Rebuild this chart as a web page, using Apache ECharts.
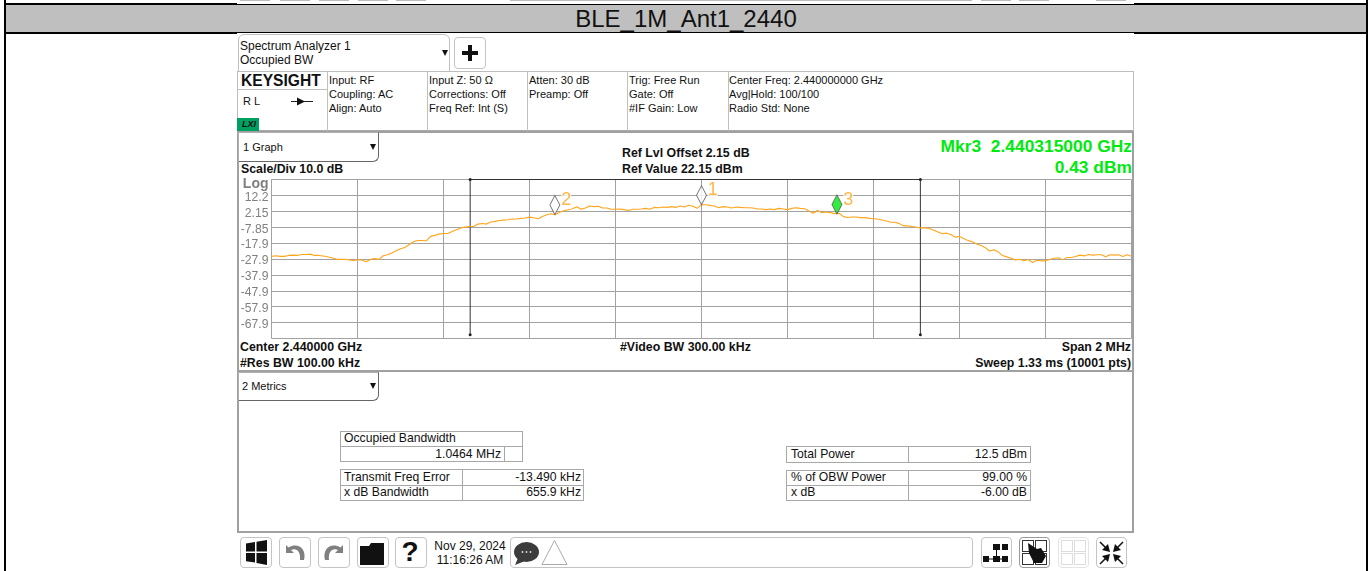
<!DOCTYPE html>
<html>
<head>
<meta charset="utf-8">
<title>BLE_1M_Ant1_2440</title>
<script src="https://cdn.jsdelivr.net/npm/echarts@6/dist/echarts.min.js"></script>
<style>
html, body { margin: 0; padding: 0; background: #fff; }
body { position: relative; width: 1369px; height: 571px; overflow: hidden; font-family: "Liberation Sans", Arial, sans-serif; font-size: 12.2px; color: #111; }
#chart { position: absolute; left: 0; top: 0; width: 1369px; height: 571px; }
.r { position: absolute; box-sizing: border-box; }
.t { position: absolute; white-space: nowrap; line-height: 14px; transform: translateY(-7px); }
.s { font-size: 11px; }
.b { font-weight: bold; font-size: 12.35px; }
.e { transform: translate(-100%, -7px); }
.mkr { font-weight: bold; font-size: 17.4px; line-height: 20px; color: #00ea10; transform: translate(-100%, -10px); }
.cell { border: 1px solid #a8a8a8; background: #fff; }
.drop { border: 1px solid #b0b0b0; border-right-color: #666; border-bottom-color: #666; border-radius: 0 0 6px 0; background: #fff; }
.btn { border: 1px solid #c4c4c4; border-radius: 4px; background: #fff; }
.tri { width: 0; height: 0; border-left: 3px solid transparent; border-right: 3px solid transparent; border-top: 6px solid #111; }
svg { position: absolute; left: 0; top: 0; }
</style>
</head>
<body>

<!-- table row around the screenshot -->
<div class="r" style="left:4px;top:0;width:2px;height:571px;background:#000"></div>
<div class="r" style="left:1366px;top:0;width:2px;height:571px;background:#000"></div>
<div class="r" style="left:240px;top:0;width:30px;height:1px;background:#bbb"></div>
<div class="r" style="left:280px;top:0;width:30px;height:1px;background:#bbb"></div>
<div class="r" style="left:319px;top:0;width:30px;height:1px;background:#bbb"></div>
<div class="r" style="left:358px;top:0;width:30px;height:1px;background:#bbb"></div>
<div class="r" style="left:396px;top:0;width:30px;height:1px;background:#bbb"></div>
<div class="r" style="left:510px;top:0;width:462px;height:1px;background:#bbb"></div>
<div class="r" style="left:981px;top:0;width:30px;height:1px;background:#bbb"></div>
<div class="r" style="left:1019px;top:0;width:30px;height:1px;background:#bbb"></div>
<div class="r" style="left:1096px;top:0;width:30px;height:1px;background:#bbb"></div>
<div class="r" style="left:4px;top:3px;width:1364px;height:2px;background:#000"></div>
<div class="r" style="left:6px;top:5px;width:1360px;height:27px;background:#bfbfbf"></div>
<div class="r" style="left:4px;top:32px;width:1364px;height:2px;background:#000"></div>
<div class="r" style="left:237px;top:3px;width:897px;height:1px;background:#fff"></div>
<div class="r" style="left:237px;top:33px;width:897px;height:1px;background:#fff"></div>
<div class="t" style="left:686px;top:19px;font-size:24px;line-height:28px;transform:translate(-50%,-14px)">BLE_1M_Ant1_2440</div>

<!-- screen header -->
<div class="r" style="left:238px;top:34px;width:212px;height:38px;border:1px solid #c0c0c0;border-radius:6px 6px 0 0"></div>
<div class="t" style="left:240px;top:46px;font-size:12px">Spectrum Analyzer 1</div>
<div class="t" style="left:240px;top:60px;font-size:12px">Occupied BW</div>
<div class="r tri" style="left:442px;top:50px"></div>
<div class="r btn" style="left:454px;top:37px;width:32px;height:32px"></div>
<div class="r" style="left:462px;top:51px;width:16px;height:4px;background:#111"></div>
<div class="r" style="left:468px;top:45px;width:4px;height:16px;background:#111"></div>

<!-- settings strip -->
<div class="r" style="left:237px;top:71px;width:897px;height:61px;border:1px solid #bdbdbd;border-bottom:2px solid #a8a8a8"></div>
<div class="r" style="left:327px;top:71px;width:1px;height:60px;background:#c0c0c0"></div>
<div class="r" style="left:427px;top:71px;width:1px;height:60px;background:#c0c0c0"></div>
<div class="r" style="left:527px;top:71px;width:1px;height:60px;background:#c0c0c0"></div>
<div class="r" style="left:627px;top:71px;width:1px;height:60px;background:#c0c0c0"></div>
<div class="r" style="left:728px;top:71px;width:1px;height:60px;background:#c0c0c0"></div>
<div class="r" style="left:238px;top:89px;width:89px;height:1px;background:#c0c0c0"></div>
<div class="t" style="left:241px;top:81px;font-size:15.6px;font-weight:bold">KEYSIGHT</div>
<div class="t s" style="left:243px;top:101px">R L</div>
<svg width="1369" height="571">
  <path d="M291 101.5H313" stroke="#222" fill="none"/>
  <path d="M297 97.5L305 101.5L297 105.5Z" fill="#111"/>
</svg>
<div class="r" style="left:237px;top:118px;width:22px;height:13px;background:#00a060"></div>
<div class="t" style="left:242px;top:124px;font-size:9px;font-style:italic;font-weight:bold">LXI</div>
<div class="t s" style="left:329px;top:80px">Input: RF</div>
<div class="t s" style="left:329px;top:94px">Coupling: AC</div>
<div class="t s" style="left:329px;top:108px">Align: Auto</div>
<div class="t s" style="left:429px;top:80px">Input Z: 50 Ω</div>
<div class="t s" style="left:429px;top:94px">Corrections: Off</div>
<div class="t s" style="left:429px;top:108px">Freq Ref: Int (S)</div>
<div class="t s" style="left:529px;top:80px">Atten: 30 dB</div>
<div class="t s" style="left:529px;top:94px">Preamp: Off</div>
<div class="t s" style="left:629px;top:80px">Trig: Free Run</div>
<div class="t s" style="left:629px;top:94px">Gate: Off</div>
<div class="t s" style="left:629px;top:108px">#IF Gain: Low</div>
<div class="t s" style="left:729px;top:80px">Center Freq: 2.440000000 GHz</div>
<div class="t s" style="left:729px;top:94px">Avg|Hold: 100/100</div>
<div class="t s" style="left:729px;top:108px">Radio Std: None</div>

<!-- graph and metrics panels -->
<div class="r" style="left:237px;top:131px;width:897px;height:241px;border:2px solid #a0a0a0"></div>
<div class="r" style="left:237px;top:371px;width:897px;height:162px;border:2px solid #a0a0a0;border-top-width:1px"></div>
<div class="r drop" style="left:238px;top:132px;width:141px;height:30px"></div>
<div class="t s" style="left:243px;top:147px">1 Graph</div>
<div class="r tri" style="left:370px;top:144px"></div>
<div class="t b" style="left:241px;top:169px">Scale/Div 10.0 dB</div>
<div class="t b" style="left:622px;top:153px">Ref Lvl Offset 2.15 dB</div>
<div class="t b" style="left:622px;top:169px">Ref Value 22.15 dBm</div>
<div class="t mkr" style="left:1132px;top:146px">Mkr3&nbsp; 2.440315000 GHz</div>
<div class="t mkr" style="left:1132px;top:167px">0.43 dBm</div>
<div class="t b" style="left:240px;top:347px">Center 2.440000 GHz</div>
<div class="t b" style="left:240px;top:363px">#Res BW 100.00 kHz</div>
<div class="t b" style="left:620px;top:347px">#Video BW 300.00 kHz</div>
<div class="t b e" style="left:1131px;top:347px">Span 2 MHz</div>
<div class="t b e" style="left:1131px;top:363px">Sweep 1.33 ms (10001 pts)</div>

<div class="r drop" style="left:238px;top:372px;width:141px;height:29px"></div>
<div class="t s" style="left:242px;top:386px">2 Metrics</div>
<div class="r tri" style="left:370px;top:383px"></div>

<!-- metrics tables -->
<div class="r cell" style="left:340px;top:431px;width:183px;height:16px"></div>
<div class="r cell" style="left:340px;top:446px;width:183px;height:16px"></div>
<div class="r" style="left:504px;top:446px;width:1px;height:16px;background:#a8a8a8"></div>
<div class="t" style="left:344px;top:438px">Occupied Bandwidth</div>
<div class="t e" style="left:501px;top:454px">1.0464 MHz</div>
<div class="r cell" style="left:340px;top:469px;width:244px;height:32px"></div>
<div class="r" style="left:340px;top:485px;width:244px;height:1px;background:#a8a8a8"></div>
<div class="r" style="left:462px;top:469px;width:1px;height:32px;background:#a8a8a8"></div>
<div class="t" style="left:344px;top:477px">Transmit Freq Error</div>
<div class="t" style="left:344px;top:492px">x dB Bandwidth</div>
<div class="t e" style="left:581px;top:477px">-13.490 kHz</div>
<div class="t e" style="left:581px;top:492px">655.9 kHz</div>
<div class="r cell" style="left:786px;top:446px;width:245px;height:17px"></div>
<div class="r" style="left:908px;top:446px;width:1px;height:17px;background:#a8a8a8"></div>
<div class="t" style="left:791px;top:454px">Total Power</div>
<div class="t e" style="left:1027px;top:454px">12.5 dBm</div>
<div class="r cell" style="left:786px;top:470px;width:245px;height:31px"></div>
<div class="r" style="left:786px;top:485px;width:245px;height:1px;background:#a8a8a8"></div>
<div class="r" style="left:908px;top:470px;width:1px;height:31px;background:#a8a8a8"></div>
<div class="t" style="left:791px;top:477px">% of OBW Power</div>
<div class="t" style="left:791px;top:492px">x dB</div>
<div class="t e" style="left:1027px;top:477px">99.00 %</div>
<div class="t e" style="left:1027px;top:492px">-6.00 dB</div>

<!-- toolbar -->
<div class="r btn" style="left:240px;top:537px;width:32px;height:31px"></div>
<div class="r btn" style="left:279px;top:537px;width:32px;height:31px"></div>
<div class="r btn" style="left:318px;top:537px;width:32px;height:31px"></div>
<div class="r btn" style="left:357px;top:537px;width:32px;height:31px"></div>
<div class="r btn" style="left:395px;top:537px;width:32px;height:31px"></div>
<div class="t" style="left:410px;top:552px;font-size:28px;font-weight:bold;line-height:32px;transform:translate(-50%,-16px)">?</div>
<div class="t" style="left:470px;top:546px;font-size:12px;transform:translate(-50%,-7px)">Nov 29, 2024</div>
<div class="t" style="left:470px;top:560px;font-size:12px;transform:translate(-50%,-7px)">11:16:26 AM</div>
<div class="r btn" style="left:510px;top:537px;width:463px;height:31px"></div>
<div class="r btn" style="left:981px;top:537px;width:31px;height:31px"></div>
<div class="r btn" style="left:1019px;top:537px;width:31px;height:31px;border-color:#999"></div>
<div class="r btn" style="left:1058px;top:537px;width:31px;height:31px;border-color:#e4e4e4"></div>
<div class="r btn" style="left:1096px;top:537px;width:31px;height:31px"></div>
<svg width="1369" height="571">
  <!-- windows -->
  <path d="M246 543.5L255 542V551.5H246ZM256.5 541.8L267 540V551.5H256.5ZM246 553H255V562.5L246 561.2ZM256.5 553H267V565L256.5 563Z" fill="#111"/>
  <!-- undo / redo -->
  <path d="M286 545V553H294L291 550C296 547.5 301 551 300 560L304 560C307 549 298 542 288.5 547.5Z" fill="#808080"/>
  <path d="M343 545V553H335L338 550C333 547.5 328 551 329 560L325 560C322 549 331 542 340.5 547.5Z" fill="#808080"/>
  <!-- folder -->
  <path d="M360 546H369L371 543H384V565H360Z" fill="#111"/>
  <!-- message balloon -->
  <ellipse cx="526.5" cy="552" rx="12.5" ry="10" fill="#3c3c3c"/>
  <path d="M518 558L515 565L525 561Z" fill="#3c3c3c"/>
  <circle cx="522.5" cy="552" r="0.9" fill="#ddd"/><circle cx="526.5" cy="552" r="0.9" fill="#ddd"/><circle cx="530.5" cy="552" r="0.9" fill="#ddd"/>
  <path d="M554.5 540.5L567 564.5H542Z" fill="#fff" stroke="#aaa"/>
  <!-- layout icon -->
  <rect x="993" y="544" width="7" height="6" fill="#111"/>
  <rect x="1002" y="544" width="6" height="6" fill="#111"/>
  <rect x="983" y="556" width="6" height="6" fill="#111"/>
  <rect x="993" y="556" width="7" height="6" fill="#111"/>
  <rect x="1002" y="556" width="6" height="6" fill="#111"/>
  <path d="M983 559H1008M996.5 550V556" stroke="#111"/>
  <!-- touch icon -->
  <rect x="1022.5" y="540.5" width="11" height="11" fill="#fff" stroke="#333"/>
  <rect x="1035.5" y="540.5" width="11" height="11" fill="#fff" stroke="#333"/>
  <rect x="1022.5" y="553.5" width="11" height="11" fill="#fff" stroke="#333"/>
  <rect x="1035.5" y="553.5" width="11" height="11" fill="#fff" stroke="#333"/>
  <path d="M1028 543L1037 549L1041 548L1046 556L1042 563L1034 563L1029 553Z" fill="#111"/>
  <!-- faded grid icon -->
  <rect x="1061.5" y="540.5" width="11" height="11" fill="#fff" stroke="#ddd"/>
  <rect x="1074.5" y="540.5" width="11" height="11" fill="#fff" stroke="#ddd"/>
  <rect x="1061.5" y="553.5" width="11" height="11" fill="#fff" stroke="#ddd"/>
  <rect x="1074.5" y="553.5" width="11" height="11" fill="#fff" stroke="#ddd"/>
  <!-- shrink arrows -->
  <path d="M1100 542L1107 549M1123 542L1116 549M1100 564L1107 557M1123 564L1116 557" stroke="#111" stroke-width="1.5"/>
  <path d="M1110 552L1102 550L1108 544ZM1113 552L1121 550L1115 544ZM1110 554L1102 556L1108 562ZM1113 554L1121 556L1115 562Z" fill="#111"/>
</svg>

<div id="chart"></div>

<script>
// trace, one reading every 10 kHz from -1000 to +1000 kHz around center
const traceStartKhz = -1000
const traceStepKhz = 10
const traceDbm = [
  -26.2, -25.8, -26.2, -26.2, -25.6, -25.4, -25.6, -25.0, -25.0, -24.8,
  -25.6, -25.6, -26.0, -26.4, -27.1, -27.9, -28.1, -28.1, -28.3, -28.9,
  -28.3, -28.5, -29.6, -28.1, -27.5, -28.1, -25.8, -25.2, -24.1, -22.7,
  -21.4, -20.6, -18.9, -17.0, -16.2, -16.2, -16.4, -13.6, -13.0, -12.2,
  -11.8, -11.8, -10.5, -9.5, -8.4, -7.8, -7.4, -7.4, -5.9, -5.5,
  -5.9, -4.6, -4.2, -3.6, -3.4, -3.2, -2.7, -2.7, -2.3, -2.1,
  -1.5, -1.9, -2.5, -1.1, 0.0, 0.6, 0.0, 1.5, 2.5, 3.1,
  3.8, 5.0, 3.5, 4.2, 5.5, 5.1, 5.3, 4.2, 4.2, 3.4,
  3.4, 3.6, 3.2, 2.6, 3.4, 3.4, 3.6, 4.0, 3.4, 4.6,
  4.4, 4.9, 4.6, 5.1, 4.6, 5.5, 4.9, 5.9, 5.3, 4.0,
  6.3, 6.3, 5.9, 5.5, 4.4, 5.1, 4.9, 4.2, 4.9, 4.6,
  4.4, 4.4, 4.2, 3.6, 3.6, 3.2, 3.6, 3.2, 4.0, 3.6,
  3.2, 4.0, 4.4, 4.0, 3.8, 2.4, 0.9, 2.6, 1.3, 1.7,
  1.3, 0.7, 0.9, -1.2, -1.8, -1.4, -1.4, -1.85, -1.85, -2.3,
  -2.5, -2.7, -3.3, -3.9, -4.7, -4.7, -5.6, -7.0, -7.0, -7.4,
  -7.85, -8.3, -8.3, -8.7, -9.7, -10.8, -12.0, -11.6, -12.4, -14.1,
  -13.7, -14.9, -16.3, -17.0, -18.4, -19.4, -20.7, -22.8, -22.1, -23.4,
  -25.7, -26.5, -27.4, -28.4, -28.0, -29.0, -28.2, -30.0, -28.6, -29.0,
  -29.0, -28.2, -27.4, -27.1, -28.4, -26.9, -26.9, -26.3, -25.4, -25.9,
  -25.0, -25.4, -25.2, -25.2, -26.5, -25.2, -25.4, -25.2, -26.3, -25.2,
  -26.1
]

// markers
const markerNames = ['1', '2', '3']
const markerKhz = [0, -341, 315]
const markerDbm = [6.3, 0.2, 0.43]
const markerFills = ['#ffffff', '#ffffff', '#00ea10']

// occupied bandwidth bracket
const obwLeftKhz = -538
const obwRightKhz = 509
const obwTopDbm = 22.15
const obwBottomDbm = -75.5

// y axis runs from ref value down, ten 10 dB divisions
const refDbm = 22.15
const bottomDbm = -77.85
const yTickLabels = ['', '-67.9', '-57.9', '-47.9', '-37.9', '-27.9', '-17.9', '-7.85', '2.15', '12.2', '{log|Log}']

const chart = echarts.init(document.getElementById('chart'), null, { renderer: 'canvas' })

chart.setOption({
  animation: false,
  backgroundColor: 'transparent',
  grid: { left: 271.5, top: 179.5, width: 860, height: 159 },
  xAxis: {
    type: 'value',
    min: -1000,
    max: 1000,
    interval: 200,
    axisLine: { show: false },
    axisTick: { show: false },
    axisLabel: { show: false },
    splitLine: { lineStyle: { color: '#a2a2a2', width: 1 } }
  },
  yAxis: {
    type: 'value',
    min: bottomDbm,
    max: refDbm,
    interval: 10,
    axisLine: { show: false },
    axisTick: { show: false },
    axisLabel: {
      margin: 3,
      color: '#808080',
      fontFamily: 'Liberation Sans',
      fontSize: 12.2,
      padding: [4, 0, 0, 0],
      formatter: (value, index) => yTickLabels[index],
      rich: {
        log: { color: '#808080', fontWeight: 'bold', fontSize: 14, fontFamily: 'Liberation Sans', padding: [5, 0, 0, 0] }
      }
    },
    splitLine: { lineStyle: { color: '#a2a2a2', width: 1 } }
  },
  series: [
    {
      name: 'OBW',
      type: 'line',
      data: [
        [obwLeftKhz, obwBottomDbm],
        [obwLeftKhz, obwTopDbm],
        [obwRightKhz, obwTopDbm],
        [obwRightKhz, obwBottomDbm]
      ],
      symbol: 'circle',
      symbolSize: 3,
      clip: false,
      itemStyle: { color: '#222' },
      lineStyle: { color: '#333', width: 1 },
      z: 3
    },
    {
      name: 'Trace',
      type: 'line',
      data: traceDbm.map((d, i) => [traceStartKhz + i * traceStepKhz, d]),
      symbol: 'none',
      lineStyle: { color: '#ffa51a', width: 1.1 },
      z: 4
    },
    {
      name: 'Markers',
      type: 'scatter',
      symbol: 'diamond',
      symbolSize: [10, 19],
      symbolOffset: [0, '-50%'],
      data: markerNames.map((name, i) => ({
        name,
        value: [markerKhz[i], markerDbm[i]],
        itemStyle: { color: markerFills[i], borderColor: '#555', borderWidth: 1 }
      })),
      label: {
        show: true,
        position: 'right',
        distance: 1,
        offset: [0, -5],
        formatter: '{b}',
        color: '#ffa51a',
        fontFamily: 'Liberation Sans',
        fontSize: 18,
        backgroundColor: '#fff'
      },
      z: 5
    }
  ]
})
</script>
</body>
</html>
